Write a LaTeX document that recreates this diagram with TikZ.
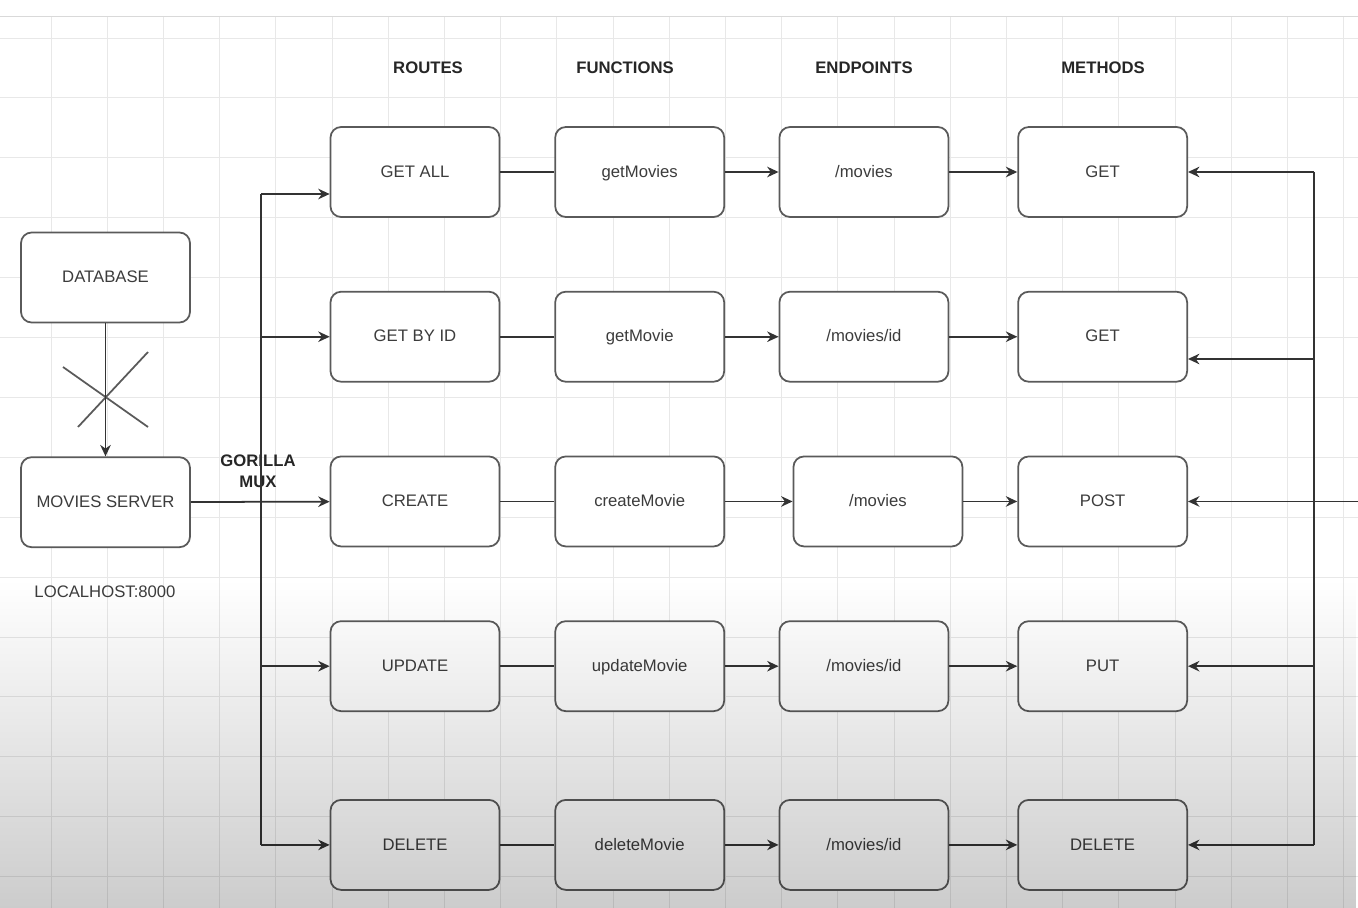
\documentclass[tikz,border=0pt]{standalone}
\usepackage{fontspec}
\setmainfont{Liberation Sans}
\usetikzlibrary{positioning,arrows.meta,calc,fadings}
\definecolor{edgegray}{HTML}{5A5A5A}
\definecolor{textgray}{HTML}{3C3C3C}
\tikzfading[name=fadedown, top color=transparent!100, bottom color=transparent!0]
\tikzset{
  box/.style={rectangle, rounded corners=6pt, draw=edgegray, line width=1pt, fill=white,
    minimum width=3.38cm, minimum height=1.80cm, inner sep=0pt,
    text height=8pt, text depth=2pt,
    text=textgray, font=\fontsize{9.5}{11}\selectfont},
  head/.style={font=\bfseries\fontsize{9.5}{12}\selectfont, text=black!85},
  connect/.style={-{Stealth[length=6.5pt,width=6pt]}, line width=1pt, draw=black!80},
  link/.style={line width=1pt, draw=black!80}
}

\begin{document}
\begin{tikzpicture}[x=0.02cm, y=-0.02cm]
  \useasboundingbox (0,0) rectangle (1358,908);
  % background grid
  \foreach \i in {0,...,23}
    \draw[gray!18, line width=0.5pt] ({51+56.2*\i},16) -- ({51+56.2*\i},908);
  \foreach \j in {0,...,14}
    \draw[gray!18, line width=0.5pt] (0,{38+59.9*\j}) -- (1358,{38+59.9*\j});
  \draw[gray!30] (0,16) -- (1358,16);

  % column titles
  \node[head] (routes) at (428,68) {ROUTES};
  \node[head] (functions) at (625,68) {FUNCTIONS};
  \node[head] (endpoints) at (864,68) {ENDPOINTS};
  \node[head] (methods) at (1103,68) {METHODS};

  % server side
  \node[box] (db) at (105.5,277.5) {DATABASE};
  \node[box, below=2.66cm of db] (server) {MOVIES SERVER};
  \node[text=textgray, font=\fontsize{9.5}{11}\selectfont] (localhost) at (105,592) {LOCALHOST:8000};
  \node[head, align=center] (mux) at (258,471) {GORILLA\\MUX};

  % routes
  \node[box] (getall) at (415,172) {GET ALL};
  \node[box, below=1.46cm of getall] (getbyid) {GET BY ID};
  \node[box, below=1.46cm of getbyid] (create) {CREATE};
  \node[box, below=1.46cm of create] (update) {UPDATE};
  \node[box, below=1.74cm of update] (delete) {DELETE};

  % functions
  \node[box, right=1.08cm of getall] (getmovies) {getMovies};
  \node[box, right=1.08cm of getbyid] (getmovie) {getMovie};
  \node[box, right=1.08cm of create] (createmovie) {createMovie};
  \node[box, right=1.08cm of update] (updatemovie) {updateMovie};
  \node[box, right=1.08cm of delete] (deletemovie) {deleteMovie};

  % endpoints
  \node[box, right=1.07cm of getmovies] (ep1) {/movies};
  \node[box, right=1.07cm of getmovie] (ep2) {/movies/id};
  \node[box, right=1.35cm of createmovie] (ep3) {/movies};
  \node[box, right=1.07cm of updatemovie] (ep4) {/movies/id};
  \node[box, right=1.07cm of deletemovie] (ep5) {/movies/id};

  % methods
  \node[box, right=1.36cm of ep1] (get1) {GET};
  \node[box, right=1.36cm of ep2] (get2) {GET};
  \node[box, right=1.08cm of ep3] (post) {POST};
  \node[box, right=1.36cm of ep4] (put) {PUT};
  \node[box, right=1.36cm of ep5] (delmethod) {DELETE};

  % database link, crossed out
  \coordinate (cut) at (106,397);
  \draw[edgegray, line width=1pt] ($(cut)+(-43,-30)$) -- ($(cut)+(42,30)$);
  \draw[edgegray, line width=1pt] ($(cut)+(-28,30)$) -- ($(cut)+(42,-45)$);
  \draw[connect] (db) -- (server);

  % router trunk
  \coordinate (trunktop) at (261,194);
  \coordinate (trunkbot) at (delete.west -| trunktop);
  \draw[link] (trunktop) -- (trunkbot);
  \draw[connect] (server) -- (create);
  \draw[connect] (trunktop) -- (trunktop -| getall.west);
  \draw[connect] (getbyid.west -| trunktop) -- (getbyid);
  \draw[connect] (update.west -| trunktop) -- (update);
  \draw[connect] (trunkbot) -- (delete);

  % rows
  \draw[link] (getall) -- (getmovies);
  \draw[link] (getbyid) -- (getmovie);
  \draw[link] (create) -- (createmovie);
  \draw[link] (update) -- (updatemovie);
  \draw[link] (delete) -- (deletemovie);
  \draw[connect] (getmovies) -- (ep1);
  \draw[connect] (getmovie) -- (ep2);
  \draw[connect] (createmovie) -- (ep3);
  \draw[connect] (updatemovie) -- (ep4);
  \draw[connect] (deletemovie) -- (ep5);
  \draw[connect] (ep1) -- (get1);
  \draw[connect] (ep2) -- (get2);
  \draw[connect] (ep3) -- (post);
  \draw[connect] (ep4) -- (put);
  \draw[connect] (ep5) -- (delmethod);

  % return rail on the right
  \coordinate (rail) at (1314,0);
  \coordinate (railtop) at (get1.east -| rail);
  \coordinate (railbot) at (delmethod.east -| rail);
  \draw[link] (railtop) -- (railbot);
  \draw[connect] (railtop) -- (get1);
  \coordinate (railget) at (1314,359);
  \draw[connect] (railget) -- (railget -| get2.east);
  \coordinate (inlet) at (1358,502);
  \draw[connect] (post.east -| inlet) -- (post);
  \draw[connect] (put.east -| rail) -- (put);
  \draw[connect] (railbot) -- (delmethod);

  % darkening towards the bottom
  \fill[black, opacity=0.2, path fading=fadedown] (0,580) rectangle (1358,908);
\end{tikzpicture}
\end{document}
